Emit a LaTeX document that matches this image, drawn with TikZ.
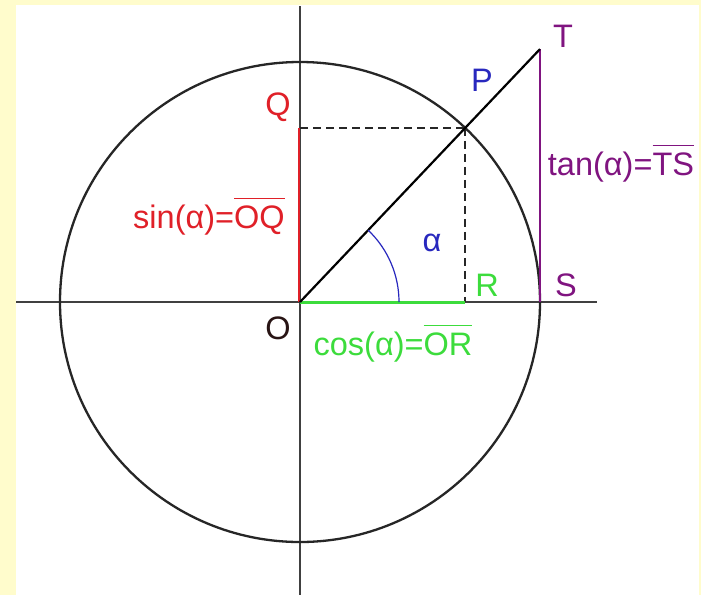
\documentclass[tikz,border=0pt]{standalone}
\usepackage{fontspec}
\setmainfont{Liberation Sans}
\definecolor{bgyellow}{RGB}{255,252,204}
\definecolor{cred}{RGB}{224,32,40}
\definecolor{cgreen}{RGB}{60,220,60}
\definecolor{cblue}{RGB}{40,40,190}
\definecolor{cpurple}{RGB}{128,20,128}
\definecolor{cdark}{RGB}{40,20,20}
\newcommand{\ovl}[1]{$\overline{\rule{0pt}{29pt}\hbox{#1}}$}
\begin{document}
\begin{tikzpicture}[x=1pt,y=-1pt,
  lbl/.style={inner sep=0pt, font=\fontsize{32.5}{34}\selectfont},
  axis/.style={draw=black!75, line width=1.5pt},
  dsh/.style={draw=black!85, line width=1.5pt, dash pattern=on 8pt off 5pt}]
\useasboundingbox (0,0) rectangle (701,595);
\fill[bgyellow] (0,0) rectangle (701,595);
\fill[white] (16,5) rectangle (699,595);
% points
\coordinate (O) at (300,302);
\coordinate (P) at ({300+240*cos(46.5)},{302-240*sin(46.5)});
\coordinate (Q) at (300,{302-240*sin(46.5)});
\coordinate (R) at ({300+240*cos(46.5)},302);
\coordinate (S) at (540,302);
\coordinate (T) at (540,{302-240*tan(46.5)});
\coordinate (xl) at (16,302);
\coordinate (xr) at (597,302);
\coordinate (yt) at (300,6);
\coordinate (yb) at (300,595);
% axes
\draw[axis] (xl) -- (xr);
\draw[axis] (yt) -- (yb);
% circle
\draw[black!85, line width=2.3pt] (O) circle[radius=240];
% dashed
\draw[dsh] (Q) -- (P);
\draw[dsh] (P) -- (R);
% colored segments
\draw[cred, line width=2.2pt] ([xshift=-0.8pt]O) -- ([xshift=-0.8pt]Q);
\draw[cgreen, line width=3pt] (O) -- (R);
\draw[cpurple, line width=2.2pt] (S) -- (T);
% radius line
\draw[black, line width=2.2pt] (O) -- (T);
% angle arc
\draw[cblue, line width=1.2pt] ([xshift=99pt]O) arc[start angle=0, end angle=-46.5, radius=99];
% labels
\node[lbl, text=cred] (lQ) at (278,107) {Q};
\node[lbl, text=cred] (lsin) at (209,216) {sin(α)=\ovl{OQ}};
\node[lbl, text=cblue] (lP) at (482,80) {P};
\node[lbl, text=cpurple] (lT) at (563,36) {T};
\node[lbl, text=cpurple] (ltan) at (621,163) {tan(α)=\ovl{TS}};
\node[lbl, text=cblue] (la) at (432,243) {α};
\node[lbl, text=cgreen] (lR) at (487,285) {R};
\node[lbl, text=cpurple] (lS) at (566,285) {S};
\node[lbl, text=cdark] (lO) at (278,328) {O};
\node[lbl, text=cgreen] (lcos) at (393,343) {cos(α)=\ovl{OR}};
\end{tikzpicture}
\end{document}
